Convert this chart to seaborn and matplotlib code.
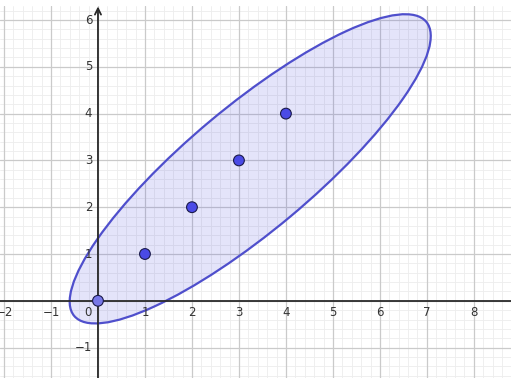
import numpy as np
import pandas as pd
import matplotlib
matplotlib.use("Agg")
import matplotlib.pyplot as plt
from matplotlib.patches import Ellipse
import seaborn as sns

# Data
point_x = [0, 1, 2, 3, 4]
point_y = [0, 1, 2, 3, 4]
point_kind = ["origin", "data", "data", "data", "data"]
ellipse_center = (3.24, 2.82)
ellipse_axes = (4.89, 1.33)   # semi-major, semi-minor
ellipse_angle = 40.0
x_tick_values = [-2, -1, 1, 2, 3, 4, 5, 6, 7, 8]
y_tick_values = [-1, 1, 2, 3, 4, 5, 6]

sns.set_style("white")
plt.rcParams['font.family'] = ['DejaVu Sans']

fig = plt.figure(figsize=(5.11, 3.78), dpi=100)
ax = fig.add_axes([0, 0, 1, 1 - 6 / 378])
xmin, xmax = -2.085, 8.79
ymin, ymax = -1.65, 6.30
ax.set_xlim(xmin, xmax)
ax.set_ylim(ymin, ymax)

# grid
for v in np.arange(-2.2, 9.0, 0.2):
    ax.axvline(v, color="#ededed", lw=0.6, zorder=0)
for v in np.arange(-1.8, 6.6, 0.2):
    ax.axhline(v, color="#ededed", lw=0.6, zorder=0)
for v in range(-2, 9):
    ax.axvline(v, color="#cacaca", lw=0.9, zorder=0.5)
for v in range(-1, 7):
    ax.axhline(v, color="#cacaca", lw=0.9, zorder=0.5)

# axes lines
ax.axhline(0, color="#2a2a2a", lw=1.3, zorder=2)
ax.annotate("", xy=(0, 6.29), xytext=(0, ymin),
            arrowprops=dict(arrowstyle="->", lw=1.3, color="#2a2a2a",
                            mutation_scale=11, shrinkA=0, shrinkB=0), zorder=2)

# ellipse
ell = Ellipse(ellipse_center, 2 * ellipse_axes[0], 2 * ellipse_axes[1],
              angle=ellipse_angle, facecolor=(0.30, 0.30, 0.88, 0.15),
              edgecolor="#4f4fcc", lw=1.6, zorder=1)
ax.add_patch(ell)

# tick labels
for v in x_tick_values:
    ax.text(v, -0.24, f"{v}".replace("-", "\u2212"), ha="center", va="center",
            fontsize=8.5, color="#333333", zorder=3)
ax.text(-0.22, -0.24, "0", ha="center", va="center", fontsize=8.5,
        color="#333333", zorder=3)
for v in y_tick_values:
    ax.text(-0.12, v, f"{v}".replace("-", "\u2212"), ha="right", va="center",
            fontsize=8.5, color="#333333", zorder=3)

# points
df = pd.DataFrame({"x": point_x, "y": point_y, "kind": point_kind})
sns.scatterplot(data=df, x="x", y="y", hue="kind",
                palette={"origin": "#7878e8", "data": "#4a4ae6"},
                s=60, edgecolor="#1a1a4a", linewidth=0.8, legend=False,
                zorder=4, ax=ax)

ax.set_xlabel("")
ax.set_ylabel("")
ax.set_xticks([])
ax.set_yticks([])
for s in ax.spines.values():
    s.set_visible(False)

fig.savefig("out.png", dpi=100)
